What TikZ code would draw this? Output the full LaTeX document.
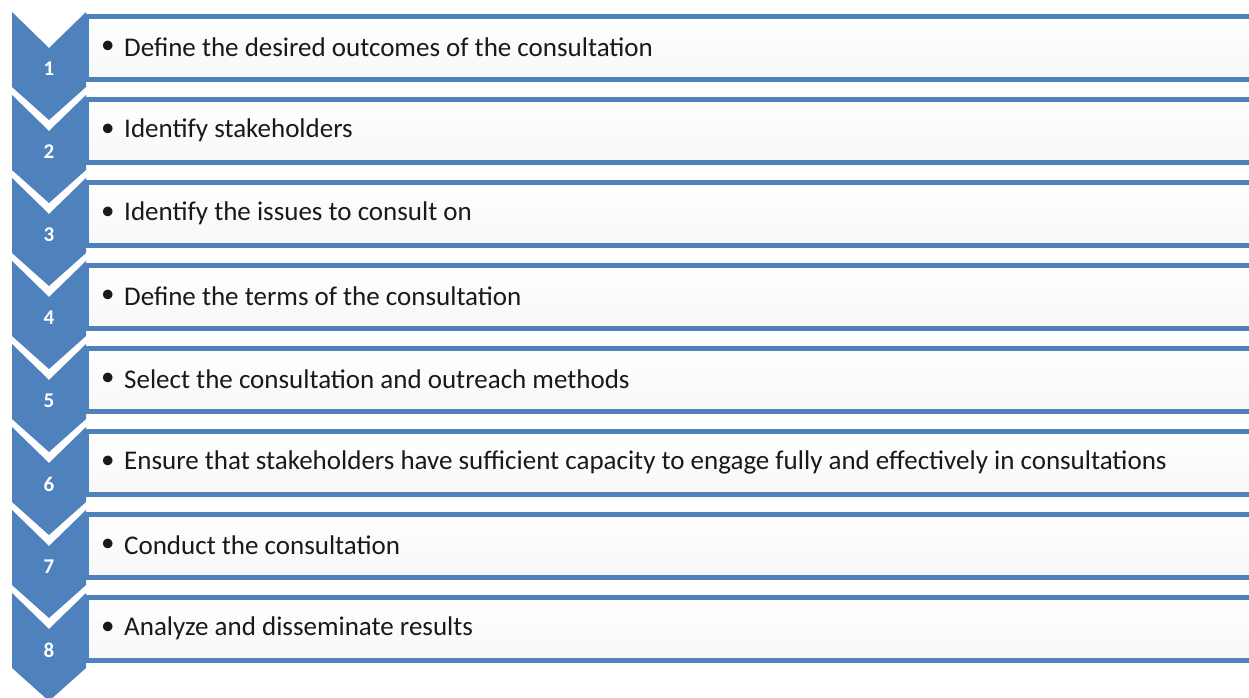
\documentclass[tikz,border=0pt]{standalone}
\usepackage{fontspec}
\setmainfont{Carlito}[BoldFont={Carlito Bold}]
\definecolor{cblue}{HTML}{4F81BD}
\begin{document}
\begin{tikzpicture}[x=1pt,y=-1pt,
  chev/.style={fill=cblue,draw=none},
  rowbox/.style={draw=cblue,line width=5pt,top color=white,bottom color=black!3},
  num/.style={text=white,font=\fontsize{21}{25}\selectfont\bfseries,inner sep=0pt},
  item/.style={anchor=west,text=black!90,font=\fontsize{27}{31}\selectfont,inner sep=0pt}]
\useasboundingbox (0,0) rectangle (1249,698);
\foreach \i/\txt in {
  1/Define the desired outcomes of the consultation,
  2/Identify stakeholders,
  3/Identify the issues to consult on,
  4/Define the terms of the consultation,
  5/Select the consultation and outreach methods,
  6/Ensure that stakeholders have sufficient capacity to engage fully and effectively in consultations,
  7/Conduct the consultation,
  8/Analyze and disseminate results}{
  \pgfmathsetmacro\t{12+83*(\i-1)}
  \pgfmathsetmacro\b{\t+2}
  \fill[chev] (12,\t) -- (49,\t+36) -- (86,\t) -- (86,\t+75) -- (49,\t+108) -- (12,\t+75) -- cycle;
  \node[num] (n\i) at (49,\t+57) {\i};
  \draw[rowbox] (86.5,\b+2.5) rectangle (1262,\b+65.5);
  \node[item] (b\i) at (101,\b+33) {•};
  \node[item] (t\i) at (124,\b+33) {\txt};
}
\end{tikzpicture}
\end{document}
